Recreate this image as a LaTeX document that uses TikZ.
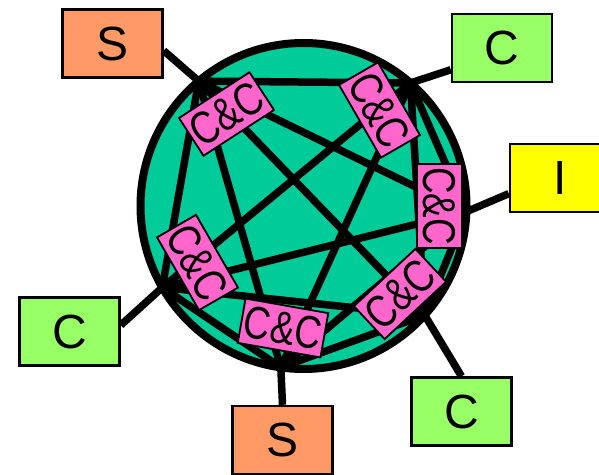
\documentclass[tikz,border=0pt]{standalone}
\usepackage{fontspec}
\usepackage{graphicx}
\setmainfont{Liberation Sans}
\usetikzlibrary{calc}
\newcommand{\cctext}{\scalebox{0.8}[1]{C\&C}}
\begin{document}
\begin{tikzpicture}[x=1pt,y=1pt,
  ring/.style={draw=black,line width=8pt,fill=ringfill},
  chord/.style={draw=black,line width=7.5pt},
  link/.style={draw=black,line width=7.5pt},
  cc/.style={draw=black,line width=1.8pt,fill=ccpink,minimum width=84pt,minimum height=45pt,inner sep=0pt,font=\fontsize{46}{46}\selectfont},
  ext/.style={draw=black,line width=2.4pt,minimum width=100pt,minimum height=68pt,inner sep=0pt,font=\fontsize{48}{48}\selectfont}]
\definecolor{ringfill}{HTML}{00CC99}
\definecolor{ccpink}{HTML}{FF66CC}
\definecolor{sorange}{HTML}{FF9966}
\definecolor{cgreen}{HTML}{99FF66}
\definecolor{iyellow}{HTML}{FFFF00}
\useasboundingbox (0,0) rectangle (599,474);

% the ring
\coordinate (o) at (303.5,268);
\path[ring] (o) circle (163);

% six sites on the ring
\coordinate (v1) at ($(o)+(130:163)$);
\coordinate (v2) at ($(o)+(49:163)$);
\coordinate (v3) at ($(o)+(-2:163)$);
\coordinate (v4) at ($(o)+(-42:163)$);
\coordinate (v5) at ($(o)+(-98:163)$);
\coordinate (v6) at ($(o)+(210:163)$);

% full mesh between the sites
\foreach \i/\j in {1/2,1/3,1/4,1/5,1/6,2/3,2/4,2/5,2/6,3/4,3/5,3/6,4/5,4/6,5/6}
  \draw[chord] (v\i) -- (v\j);

% C&C boxes
\node[cc,rotate=33]  (cc1) at (226.5,360) {\cctext};
\node[cc,rotate=-60] (cc2) at (379.5,364) {\cctext};
\node[cc,rotate=-90] (cc3) at (439.5,268) {\cctext};
\node[cc,rotate=43]  (cc4) at (400,180)   {\cctext};
\node[cc,rotate=-10] (cc5) at (283,146)   {\cctext};
\node[cc,rotate=-60] (cc6) at (197.5,211.5) {\cctext};

% outer boxes
\node[ext,fill=sorange] (s1) at (112.5,430.5) {S};
\node[ext,fill=cgreen]  (c2) at (502,426)     {C};
\node[ext,fill=iyellow] (i3) at (560,296)     {I};
\node[ext,fill=cgreen]  (c4) at (461.5,62.5)  {C};
\node[ext,fill=sorange] (s5) at (282.5,34)    {S};
\node[ext,fill=cgreen]  (c6) at (69.5,142.5)  {C};

% links from the ring to the outer boxes
\draw[link] (v1) -- (s1.-8);
\draw[link] (v2) -- (c2.203);
\draw[link] (v3) -- (i3.197);
\draw[link] (v4) -- (c4.north);
\draw[link] (v5) -- (s5.north);
\draw[link] (v6) -- (c6.7);
\end{tikzpicture}
\end{document}
